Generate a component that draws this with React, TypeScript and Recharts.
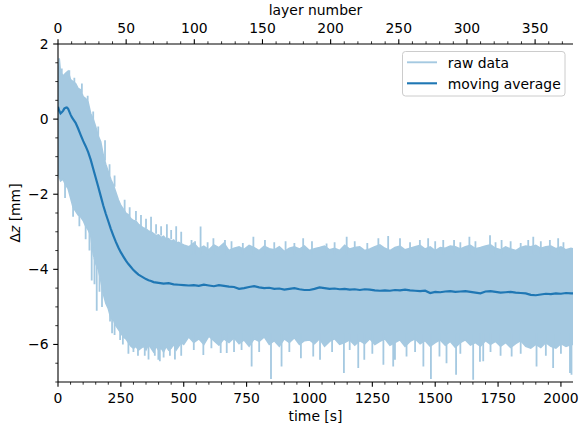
import React from 'react';
import { ComposedChart, Line, Area, XAxis, YAxis } from 'recharts';

// ---- data ----
const bandTime = [
  0, 5, 10, 20, 30, 40, 50, 60, 70, 80, 90, 100, 110, 120, 130, 140, 150, 160, 170, 180, 190, 200,
  210, 220, 230, 240, 250, 260, 270, 280, 290, 300, 310, 320, 330, 340, 350, 360, 370, 380, 390, 400,
  410, 420, 430, 440, 450, 460, 470, 480, 490, 500,
  520, 540, 560, 580, 600, 620, 640, 660, 680, 700, 720, 740, 760, 780, 800, 820, 840, 860, 880, 900,
  920, 940, 960, 980, 1000, 1020, 1040, 1060, 1080, 1100, 1120, 1140, 1160, 1180, 1200, 1220, 1240,
  1260, 1280, 1300, 1320, 1340, 1360, 1380, 1400, 1420, 1440, 1460, 1480, 1500, 1520, 1540, 1560,
  1580, 1600, 1620, 1640, 1660, 1680, 1700, 1720, 1740, 1760, 1780, 1800, 1820, 1840, 1860, 1880,
  1900, 1920, 1940, 1960, 1980, 2000, 2020, 2040, 2048,
];
const bandHigh = [
  1.1, 1.62, 1.25, 1.15, 1.22, 1.28, 1.05, 1.0, 0.95, 0.82, 0.78, 0.6, 0.55, 0.45, 0.15, 0.0, -0.2, -0.45, -0.6, -0.95, -1.2, -1.4,
  -1.6, -1.75, -1.95, -2.15, -2.3, -2.4, -2.5, -2.55, -2.65, -2.7, -2.72, -2.8, -2.85, -2.9, -2.92, -2.98, -3.0, -3.05, -3.1, -3.08,
  -3.15, -3.12, -3.2, -3.18, -3.25, -3.22, -3.3, -3.28, -3.32, -3.35,
  -3.4, -3.3, -3.45, -3.38, -3.48, -3.35, -3.42, -3.3, -3.5, -3.44, -3.4, -3.47, -3.36, -3.42, -3.5, -3.38, -3.45, -3.48, -3.4, -3.52,
  -3.44, -3.4, -3.46, -3.38, -3.5, -3.45, -3.42, -3.38, -3.48, -3.44, -3.5, -3.36, -3.46, -3.42, -3.4, -3.5, -3.46,
  -3.4, -3.35, -3.44, -3.5, -3.42, -3.38, -3.48, -3.44, -3.4, -3.36, -3.46, -3.4, -3.5, -3.42, -3.44, -3.38,
  -3.4, -3.46, -3.4, -3.36, -3.45, -3.42, -3.38, -3.35, -3.44, -3.48, -3.4, -3.46, -3.5, -3.42, -3.38, -3.4,
  -3.36, -3.44, -3.4, -3.38, -3.45, -3.4, -3.48, -3.44, -3.45,
];
const bandLow = [
  -1.4, -1.55, -1.65, -1.6, -1.75, -1.85, -2.1, -2.35, -2.45, -2.55, -2.6, -2.7, -2.85, -2.95, -3.1, -3.6, -3.85, -4.0, -4.3, -4.65, -4.9, -5.05,
  -5.3, -5.35, -5.5, -5.6, -5.7, -5.8, -5.85, -5.95, -6.05, -6.1, -6.05, -6.15, -6.1, -6.05, -6.15, -6.0, -6.1, -6.2, -6.05, -6.15,
  -6.1, -6.2, -6.05, -6.15, -6.1, -6.0, -6.15, -6.05, -5.95, -6.0,
  -5.8, -5.95, -5.85, -6.0, -5.78, -5.9, -6.02, -5.85, -5.95, -5.82, -5.98, -5.88, -6.05, -5.85, -5.92, -5.8, -6.0, -5.9, -6.05, -5.85,
  -5.95, -5.82, -6.0, -5.9, -5.88, -5.98, -5.85, -6.05, -5.92, -5.85, -6.0, -5.95, -5.88, -6.02, -5.9, -5.98, -5.85,
  -6.0, -5.92, -5.85, -6.02, -5.95, -5.88, -6.05, -5.92, -5.85, -5.98, -5.9, -6.05, -5.95, -5.88, -6.02, -5.92,
  -6.08, -5.95, -5.88, -6.02, -5.95, -6.05, -5.9, -6.0, -5.92, -6.05, -5.95, -6.08, -5.98, -5.9, -6.05, -6.1,
  -6.0, -6.08, -5.95, -6.05, -6.1, -5.98, -6.05, -6.0, -6.0,
];

// isolated spikes of the raw signal: time, start (inside band), tip
const spikeTime = [
  28, 118, 134, 154, 187, 207, 247, 265, 300, 330, 370, 399, 405, 433, 465, 470,
  531, 567, 578, 618, 647, 664, 671, 770, 777, 823, 847, 889, 966, 975, 1015, 1042, 1068, 1137, 1148,
  1194, 1218, 1274, 1294, 1313, 1333, 1340, 1360, 1386, 1439, 1453, 1472, 1483, 1517, 1532, 1545, 1575,
  1583, 1636, 1651, 1678, 1691, 1718, 1764, 1804, 1870, 1890, 1903, 1956, 1969, 1989, 2036, 2042,
  60, 85, 110, 125, 145, 165, 175, 215, 225, 258, 280, 318, 345, 360, 385, 420, 445, 490,
  15, 45, 65, 95, 140, 160, 205, 225, 285, 310, 350, 390, 410, 450, 490,
  545, 595, 690, 735, 860, 905, 940, 1010, 1100, 1180, 1230, 1400, 1500, 1600, 1660, 1740, 1800, 1840, 1920, 2010,
  540, 610, 700, 730, 800, 920, 1090, 1160, 1250, 1420, 1600, 1720, 1760, 1840, 1940, 2000,
];
const spikeFrom = [
  -1.6, 0.3, -3.0, -3.8, -1.1, -5.1, -5.5, -2.5, -5.9, -2.9, -3.0, -6.0, -6.0, -3.2, -6.0, -3.3,
  -3.6, -3.6, -5.7, -3.6, -5.7, -3.6, -5.7, -5.7, -3.6, -3.6, -5.7, -5.7, -5.7, -3.6, -5.7, -5.7, -3.6, -5.7, -3.6,
  -5.7, -5.7, -3.6, -5.7, -3.6, -5.7, -5.7, -3.6, -5.7, -3.6, -5.7, -3.6, -5.7, -5.7, -3.6, -5.7, -3.6,
  -5.7, -3.6, -5.7, -5.7, -5.7, -3.6, -3.6, -5.7, -3.6, -3.6, -5.7, -3.6, -5.7, -3.6, -5.7, -5.7,
  -2.3, -2.5, -2.8, -2.9, -3.7, -4.0, -4.3, -5.3, -5.4, -5.7, -5.9, -6.0, -6.0, -6.0, -6.0, -6.0, -6.0, -5.9,
  1.1, 1.0, 0.9, 0.7, -0.1, -0.5, -1.5, -1.8, -2.6, -2.7, -2.9, -3.05, -3.1, -3.2, -3.3,
  -3.6, -3.6, -3.6, -3.6, -3.6, -3.6, -3.6, -3.6, -3.6, -3.6, -3.6, -3.6, -3.6, -3.6, -3.6, -3.6, -3.6, -3.6, -3.6, -3.6,
  -5.7, -5.7, -5.7, -5.7, -5.7, -5.7, -5.7, -5.7, -5.7, -5.7, -5.7, -5.7, -5.7, -5.7, -5.7, -5.7,
];
const spikeTo = [
  -2.1, 0.62, -4.3, -5.1, -0.56, -5.39, -5.88, -2.15, -6.2, -2.55, -2.6, -6.41, -6.45, -2.8, -6.4, -2.85,
  -3.22, -2.86, -6.28, -3.17, -6.23, -3.22, -6.23, -6.59, -3.13, -3.22, -6.92, -6.59, -6.37, -3.17, -6.32, -6.41, -3.31, -6.76, -3.13,
  -6.63, -6.41, -3.17, -6.54, -3.11, -6.59, -6.41, -3.17, -6.32, -3.22, -6.59, -3.17, -6.92, -6.32, -3.22, -6.5, -3.22,
  -6.81, -3.13, -6.94, -6.46, -6.45, -3.09, -3.22, -6.32, -3.22, -3.13, -6.59, -3.22, -6.63, -3.17, -6.76, -6.81,
  -2.6, -2.85, -3.2, -3.5, -4.4, -4.6, -5.0, -5.7, -5.75, -6.0, -6.25, -6.3, -6.3, -6.4, -6.3, -6.35, -6.3, -6.3,
  1.35, 1.3, 1.1, 0.95, 0.2, -0.2, -1.2, -1.5, -2.35, -2.45, -2.65, -2.8, -2.85, -2.95, -3.0,
  -3.25, -3.28, -3.25, -3.3, -3.28, -3.25, -3.3, -3.25, -3.28, -3.25, -3.3, -3.28, -3.25, -3.28, -3.25, -3.28, -3.25, -3.3, -3.25, -3.28,
  -6.15, -6.1, -6.2, -6.15, -6.2, -6.2, -6.2, -6.15, -6.25, -6.2, -6.25, -6.2, -6.3, -6.25, -6.3, -6.25,
];

const maTime = [
  0, 5, 10, 15, 20, 25, 30, 35, 40, 45, 50, 55, 60, 70, 80, 90, 100, 110, 120, 130, 140, 150, 160, 170, 180,
  190, 200, 210, 220, 230, 240, 250, 260, 270, 280, 290, 300, 310, 320, 330, 340, 350, 360, 370, 380, 400,
  420, 440, 460, 480, 500, 520, 540, 560, 580, 600, 620, 640, 660, 680, 700, 720, 740, 760, 780, 800, 820,
  840, 860, 880, 900, 920, 940, 960, 980, 1000, 1020, 1040, 1060, 1080, 1100, 1120, 1140, 1160, 1180, 1200,
  1220, 1240, 1260, 1280, 1300, 1320, 1340, 1360, 1380, 1400, 1420, 1440, 1460, 1480, 1500, 1520, 1540,
  1560, 1580, 1600, 1620, 1640, 1660, 1680, 1700, 1720, 1740, 1760, 1780, 1800, 1820, 1840, 1860, 1880,
  1900, 1920, 1940, 1960, 1980, 2000, 2020, 2040, 2048,
];
const maValue = [
  0.33, 0.22, 0.15, 0.18, 0.22, 0.28, 0.3, 0.31, 0.28, 0.2, 0.12, 0.05, 0.0, -0.1, -0.25, -0.42, -0.58, -0.72, -0.88, -1.08, -1.32, -1.56, -1.8, -2.05, -2.3,
  -2.52, -2.72, -2.92, -3.1, -3.27, -3.42, -3.55, -3.66, -3.77, -3.86, -3.94, -4.02, -4.08, -4.14, -4.18, -4.22, -4.26, -4.29, -4.31, -4.34, -4.36,
  -4.38, -4.37, -4.4, -4.41, -4.42, -4.43, -4.42, -4.44, -4.41, -4.43, -4.45, -4.42, -4.44, -4.46, -4.47, -4.52, -4.5, -4.47, -4.45, -4.48, -4.5,
  -4.49, -4.52, -4.51, -4.54, -4.52, -4.5, -4.53, -4.55, -4.55, -4.52, -4.48, -4.5, -4.52, -4.51, -4.53, -4.52, -4.54, -4.53, -4.55,
  -4.53, -4.54, -4.56, -4.57, -4.56, -4.57, -4.55, -4.56, -4.54, -4.56, -4.57, -4.58, -4.57, -4.63, -4.6, -4.61, -4.59,
  -4.58, -4.6, -4.59, -4.58, -4.6, -4.62, -4.64, -4.59, -4.58, -4.6, -4.62, -4.61, -4.6, -4.62, -4.63, -4.64, -4.68,
  -4.69, -4.67, -4.65, -4.66, -4.64, -4.65, -4.63, -4.64, -4.64,
];

const timeLabels = [0, 250, 500, 750, 1000, 1250, 1500, 1750, 2000];
const layerLabels = [0, 50, 100, 150, 200, 250, 300, 350];
const zLabels = [-6, -4, -2, 0, 2];

const TIME_MAX = 2048;
const LAYER_MAX = 377.8;

// ---- built tables ----
const bandData = bandTime.map((t, i) => ({ t, range: [bandLow[i], bandHigh[i]] }));
const maData = maTime.map((t, i) => ({ t, v: maValue[i] }));
const spikeData: any[] = [];
spikeTime.forEach((t, i) => {
  spikeData.push({ t, v: spikeFrom[i] });
  spikeData.push({ t, v: spikeTo[i] });
  spikeData.push({ t, v: null });
});
const frameData = [
  { layer: 0, v: -7 },
  { layer: LAYER_MAX, v: 2 },
];

const range = (a: number, b: number, s: number) => {
  const out: number[] = [];
  for (let v = a; v <= b + 1e-9; v += s) out.push(Math.round(v * 100) / 100);
  return out;
};
const timeTicks = range(0, 2000, 50);
const layerTicks = range(0, 370, 10);
const zTicks = range(-7, 2, 0.5);

const FONT = 'DejaVu Sans';
const FS = 13.9;
const LIGHT = '#a5c9e1';
const DARK = '#1f77b4';
const fmt = (v: number) => (v < 0 ? '\u2212' + Math.abs(v) : String(v));

const BottomTick = (p: any) => {
  const v = p.payload.value;
  const major = timeLabels.includes(v);
  return (
    <g>
      <line x1={p.x} x2={p.x} y1={p.y} y2={p.y + (major ? 4.8 : 2.7)} stroke="#000" strokeWidth={major ? 1.1 : 0.8} />
      {major && (
        <text x={p.x} y={p.y + 20.7} textAnchor="middle" fontFamily={FONT} fontSize={FS} fill="#000">
          {fmt(v)}
        </text>
      )}
    </g>
  );
};
const TopTick = (p: any) => {
  const v = p.payload.value;
  const major = layerLabels.includes(v);
  return (
    <g>
      <line x1={p.x} x2={p.x} y1={p.y} y2={p.y - (major ? 4.8 : 2.7)} stroke="#000" strokeWidth={major ? 1.1 : 0.8} />
      {major && (
        <text x={p.x} y={p.y - 11.5} textAnchor="middle" fontFamily={FONT} fontSize={FS} fill="#000">
          {fmt(v)}
        </text>
      )}
    </g>
  );
};
const LeftTick = (p: any) => {
  const v = p.payload.value;
  const major = zLabels.includes(v);
  return (
    <g>
      <line x1={p.x} x2={p.x - (major ? 4.8 : 2.7)} y1={p.y} y2={p.y} stroke="#000" strokeWidth={major ? 1.1 : 0.8} />
      {major && (
        <text x={p.x - 9.5} y={p.y + 5} textAnchor="end" fontFamily={FONT} fontSize={FS} fill="#000">
          {fmt(v)}
        </text>
      )}
    </g>
  );
};

export default function App() {
  return (
    <div style={{ position: 'absolute', left: 0, top: 0, width: 579, height: 430, background: '#fff' }}>
      <ComposedChart width={579} height={430} margin={{ top: 14, right: 6, bottom: 18, left: 8 }}>
        <XAxis
          xAxisId="bottom"
          dataKey="t"
          type="number"
          orientation="bottom"
          domain={[0, TIME_MAX]}
          allowDataOverflow
          ticks={timeTicks}
          interval={0}
          height={30}
          tickSize={0}
          tickMargin={0}
          tickLine={false}
          axisLine={{ stroke: '#000', strokeWidth: 1.1 }}
          tick={BottomTick}
        />
        <XAxis
          xAxisId="top"
          dataKey="layer"
          type="number"
          orientation="top"
          domain={[0, LAYER_MAX]}
          allowDataOverflow
          ticks={layerTicks}
          interval={0}
          height={30}
          tickSize={0}
          tickMargin={0}
          tickLine={false}
          axisLine={{ stroke: '#000', strokeWidth: 1.1 }}
          tick={TopTick}
        />
        <YAxis
          yAxisId="left"
          type="number"
          orientation="left"
          domain={[-7, 2]}
          allowDataOverflow
          ticks={zTicks}
          interval={0}
          width={50}
          tickSize={0}
          tickMargin={0}
          tickLine={false}
          axisLine={{ stroke: '#000', strokeWidth: 1.1 }}
          tick={LeftTick}
        />
        <YAxis
          yAxisId="right"
          type="number"
          orientation="right"
          domain={[-7, 2]}
          allowDataOverflow
          width={0}
          tick={false}
          tickLine={false}
          axisLine={{ stroke: '#000', strokeWidth: 1.1 }}
        />
        <Area
          xAxisId="bottom"
          yAxisId="left"
          data={bandData}
          dataKey="range"
          type="linear"
          fill={LIGHT}
          fillOpacity={1}
          stroke={LIGHT}
          strokeWidth={1.5}
          isAnimationActive={false}
          dot={false}
          activeDot={false}
        />
        <Line
          xAxisId="bottom"
          yAxisId="left"
          data={spikeData}
          dataKey="v"
          type="linear"
          stroke={LIGHT}
          strokeWidth={1.8}
          dot={false}
          activeDot={false}
          connectNulls={false}
          isAnimationActive={false}
        />
        <Line
          xAxisId="bottom"
          yAxisId="left"
          data={maData}
          dataKey="v"
          type="linear"
          stroke={DARK}
          strokeWidth={2.2}
          dot={false}
          activeDot={false}
          isAnimationActive={false}
        />
        <Line
          xAxisId="top"
          yAxisId="right"
          data={frameData}
          dataKey="v"
          stroke="none"
          dot={false}
          activeDot={false}
          isAnimationActive={false}
        />
      </ComposedChart>
      <svg
        width={579}
        height={430}
        style={{ position: 'absolute', left: 0, top: 0, pointerEvents: 'none' }}
        fontFamily={FONT}
        fontSize={FS}
      >
        <text x={315.5} y={420.5} textAnchor="middle" fill="#000">time [s]</text>
        <text x={315.5} y={15} textAnchor="middle" fill="#000">layer number</text>
        <text transform="translate(20,213) rotate(-90)" textAnchor="middle" fill="#000">
          Δ<tspan fontStyle="italic">z</tspan> [mm]
        </text>
        <rect x={402.5} y={51.5} width={162.5} height={44.5} rx={3} fill="#fff" fillOpacity={0.8} stroke="#cccccc" strokeWidth={1} />
        <line x1={407} x2={437} y1={62.3} y2={62.3} stroke={LIGHT} strokeWidth={1.9} />
        <text x={447.7} y={67.5} fill="#000">raw data</text>
        <line x1={407} x2={437} y1={83.3} y2={83.3} stroke={DARK} strokeWidth={2.1} />
        <text x={447.7} y={88.5} fill="#000">moving average</text>
      </svg>
    </div>
  );
}
